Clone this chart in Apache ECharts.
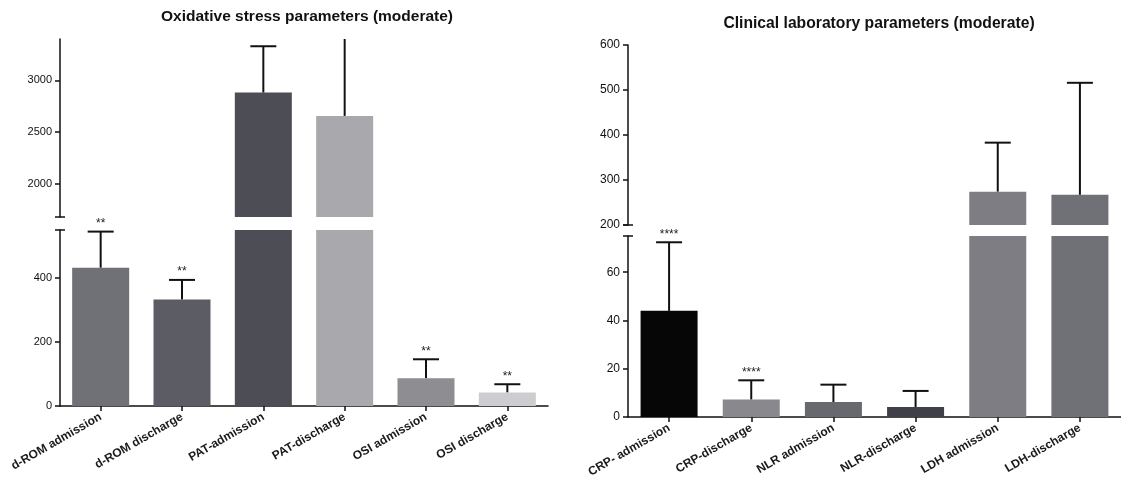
<!DOCTYPE html>
<html>
<head>
<meta charset="utf-8">
<script src="https://cdn.jsdelivr.net/npm/echarts@6/dist/echarts.min.js"></script>
<style>
html,body{margin:0;padding:0;background:#fff;}
#c{width:1121px;height:483px;}
</style>
</head>
<body>
<div id="c"></div>
<script>
// ---- Left panel: Oxidative stress parameters ----
const leftTitle = 'Oxidative stress parameters (moderate)';
const leftCategories = ['d-ROM admission', 'd-ROM discharge', 'PAT-admission', 'PAT-discharge', 'OSI admission', 'OSI discharge'];
const leftMeans = [432, 333, 2882, 2657, 87, 42];
const leftErrTop = [545, 394, 3330, 3700, 146, 68];
const leftStars = ['**', '**', '', '', '**', '**'];
const leftColors = ['#707077', '#5c5c64', '#4c4d55', '#a9a9ad', '#8d8d92', '#cdcdd1'];
const leftUpperRange = [1680, 3400];
const leftUpperTicks = [2000, 2500, 3000];
const leftLowerRange = [0, 550];
const leftLowerTicks = [0, 200, 400];

// ---- Right panel: Clinical laboratory parameters ----
const rightTitle = 'Clinical laboratory parameters (moderate)';
const rightCategories = ['CRP- admission', 'CRP-discharge', 'NLR admission', 'NLR-discharge', 'LDH admission', 'LDH-discharge'];
const rightMeans = [44, 7.2, 6.2, 4.1, 274, 267];
const rightErrTop = [72.4, 15.2, 13.4, 10.8, 383, 516];
const rightStars = ['****', '****', '', '', '', ''];
const rightColors = ['#060606', '#88888d', '#68686f', '#404048', '#7d7d83', '#707077'];
const rightUpperRange = [200, 600];
const rightUpperTicks = [200, 300, 400, 500, 600];
const rightLowerRange = [0, 75];
const rightLowerTicks = [0, 20, 40, 60];

const FONT = 'Liberation Sans, Arial, sans-serif';
const INK = '#111';

const grids = [
  {left: 60, top: 39, width: 488, height: 178},
  {left: 60, top: 230, width: 488, height: 176},
  {left: 628, top: 45, width: 496, height: 180},
  {left: 628, top: 236, width: 496, height: 181}
];

function xAxisFor(gi, cats, show, fs) {
  return {
    type: 'category', gridIndex: gi, data: cats, show: show,
    axisLine: {show: true, lineStyle: {color: INK, width: 1.5}},
    axisTick: {show: true, alignWithLabel: true, length: 5, lineStyle: {color: INK, width: 1.5}},
    axisLabel: {show: true, interval: 0, rotate: 30, margin: 10, fontFamily: FONT, fontSize: fs, fontWeight: 'bold', color: '#1a1a1a'}
  };
}
function yAxisFor(gi, range, ticks, fs) {
  return {
    type: 'value', gridIndex: gi, min: range[0], max: range[1],
    splitLine: {show: false},
    axisLine: {show: true, lineStyle: {color: INK, width: 1.5}},
    axisTick: {show: true, length: 5, customValues: ticks, lineStyle: {color: INK, width: 1.5}},
    axisLabel: {customValues: ticks, formatter: v => String(v), fontFamily: FONT, fontSize: fs, color: INK, margin: 8}
  };
}

function barSeries(gi, means, colors, range, upper) {
  return {
    type: 'bar', xAxisIndex: gi, yAxisIndex: gi, barWidth: 57, clip: true,
    data: means.map(v => (upper && v <= range[0]) ? '-' : v),
    itemStyle: {color: p => colors[p.dataIndex]},
    silent: true
  };
}

function errSeries(gi, means, tops, stars) {
  return {
    type: 'custom', xAxisIndex: gi, yAxisIndex: gi, clip: false, silent: true,
    data: means.map((m, i) => [i, m, tops[i]]),
    renderItem: function (params, api) {
      const i = api.value(0), m = api.value(1), t = api.value(2);
      const cs = params.coordSys;
      const pm = api.coord([i, m]), pt = api.coord([i, t]);
      const x = pm[0];
      let y0 = pm[1], y1 = pt[1];
      const top = cs.y, bot = cs.y + cs.height;
      if (y0 > bot) y0 = bot;
      const capIn = y1 >= top - 0.5;
      if (y1 < top) y1 = top;
      if (y0 <= y1) return null;
      const ch = [{type: 'line', shape: {x1: x, y1: y0, x2: x, y2: y1}, style: {stroke: INK, lineWidth: 2}}];
      if (capIn) {
        ch.push({type: 'line', shape: {x1: x - 13, y1: y1, x2: x + 13, y2: y1}, style: {stroke: INK, lineWidth: 2}});
        if (stars[i]) {
          ch.push({type: 'text', style: {text: stars[i], x: x, y: y1 - 2, align: 'center', verticalAlign: 'bottom', fontSize: 12, fontFamily: FONT, fill: '#222'}});
        }
      }
      return {type: 'group', children: ch};
    }
  };
}

function breakSeries(gi, atBottom, v) {
  return {
    type: 'custom', xAxisIndex: gi, yAxisIndex: gi, clip: false, silent: true,
    data: [[0, v]],
    renderItem: function (params) {
      const cs = params.coordSys;
      const y = atBottom ? cs.y + cs.height : cs.y;
      return {type: 'line', shape: {x1: cs.x - 5, y1: y, x2: cs.x + 5, y2: y}, style: {stroke: INK, lineWidth: 1.5}};
    }
  };
}

const chart = echarts.init(document.getElementById('c'), null, {renderer: 'canvas'});
chart.setOption({
  animation: false,
  backgroundColor: '#fff',
  graphic: [
    {type: 'text', x: 307, y: 17, style: {text: leftTitle, align: 'center', verticalAlign: 'middle', fontFamily: FONT, fontSize: 15.5, fontWeight: 'bold', fill: INK}},
    {type: 'text', x: 879, y: 24, style: {text: rightTitle, align: 'center', verticalAlign: 'middle', fontFamily: FONT, fontSize: 15.7, fontWeight: 'bold', fill: INK}}
  ],
  grid: grids,
  xAxis: [
    xAxisFor(0, leftCategories, false, 12),
    xAxisFor(1, leftCategories, true, 12),
    xAxisFor(2, rightCategories, false, 12),
    xAxisFor(3, rightCategories, true, 12)
  ],
  yAxis: [
    yAxisFor(0, leftUpperRange, leftUpperTicks, 11),
    yAxisFor(1, leftLowerRange, leftLowerTicks, 11),
    yAxisFor(2, rightUpperRange, rightUpperTicks, 12),
    yAxisFor(3, rightLowerRange, rightLowerTicks, 12)
  ],
  series: [
    barSeries(0, leftMeans, leftColors, leftUpperRange, true),
    barSeries(1, leftMeans, leftColors, leftLowerRange, false),
    barSeries(2, rightMeans, rightColors, rightUpperRange, true),
    barSeries(3, rightMeans, rightColors, rightLowerRange, false),
    errSeries(0, leftMeans, leftErrTop, leftStars),
    errSeries(1, leftMeans, leftErrTop, leftStars),
    errSeries(2, rightMeans, rightErrTop, rightStars),
    errSeries(3, rightMeans, rightErrTop, rightStars),
    breakSeries(0, true, leftUpperRange[0]),
    breakSeries(1, false, leftLowerRange[0]),
    breakSeries(2, true, rightUpperRange[0]),
    breakSeries(3, false, rightLowerRange[0])
  ]
});
</script>
</body>
</html>
